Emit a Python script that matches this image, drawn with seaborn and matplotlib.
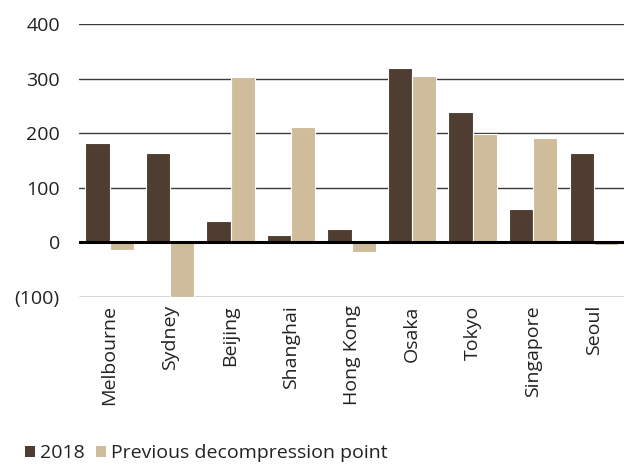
import matplotlib
matplotlib.use("Agg")
import matplotlib.pyplot as plt
import seaborn as sns
import pandas as pd
from matplotlib.patches import Patch

cities = ["Melbourne", "Sydney", "Beijing", "Shanghai", "Hong Kong",
          "Osaka", "Tokyo", "Singapore", "Seoul"]
vals_2018 = [183, 163, 40, 13, 24, 319, 239, 61, 163]
vals_prev = [-15, -100, 303, 211, -18, 305, 199, 191, -4]
series = ["2018", "Previous decompression point"]
y_ticks = [-100, 0, 100, 200, 300, 400]
y_labels = ["(100)", "0", "100", "200", "300", "400"]

dark = "#4E3D30"
light = "#CFBC9A"

df = pd.DataFrame({
    "city": cities * 2,
    "series": [series[0]] * len(cities) + [series[1]] * len(cities),
    "value": vals_2018 + vals_prev,
})

sns.set_style("white")
plt.rcParams["font.family"] = ["Open Sans", "DejaVu Sans"]

fig = plt.figure(figsize=(6.24, 4.66), dpi=100)
ax = fig.add_axes([0.127, 0.363, 0.873, 0.585])

for y in y_ticks:
    if y == 0:
        continue
    ax.axhline(y, color="#3a3a3a", lw=1.0, zorder=0)

sns.barplot(data=df, x="city", y="value", hue="series", order=cities,
            hue_order=series, palette=[dark, light], saturation=1, width=0.8,
            edgecolor="white", linewidth=0.8, ax=ax, legend=False, zorder=2)
ax.axhline(0, color="black", lw=2.2, zorder=3)

ax.set_ylim(-100, 400)
ax.set_xlim(-0.5, len(cities) - 0.5)
ax.set_yticks(y_ticks)
ax.set_yticklabels(y_labels, fontsize=14, color="#222222")
ax.set_xticks(range(len(cities)))
ax.set_xticklabels(cities, rotation=90, fontsize=14, color="#222222")
ax.tick_params(axis="y", length=0, pad=14)
ax.tick_params(axis="x", length=0, pad=6)
ax.set_xlabel("")
ax.set_ylabel("")
for s in ax.spines.values():
    s.set_visible(False)

handles = [Patch(facecolor=dark, edgecolor="none"),
           Patch(facecolor=light, edgecolor="none")]
fig.legend(handles, series, loc="lower left", bbox_to_anchor=(0.012, -0.03),
           ncol=2, frameon=False, fontsize=14, handlelength=0.5,
           handleheight=0.5, handletextpad=0.25, columnspacing=0.6,
           labelcolor="#222222")

fig.savefig("out.png", dpi=100)
